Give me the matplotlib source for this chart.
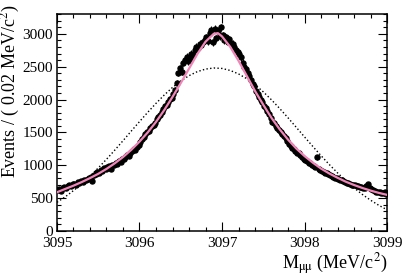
import numpy as np
import matplotlib
matplotlib.use("Agg")
from matplotlib import pyplot as plt
from matplotlib.ticker import MultipleLocator

plt.rcParams['font.family'] = ['Liberation Serif', 'DejaVu Serif']
plt.rcParams['mathtext.fontset'] = 'stix'

# bin centres, 0.02 MeV bins from 3095 to 3099
mass = np.arange(200) * 0.02 + 3095.01

events = [
    625, 640, 610, 660, 670, 655, 690, 700, 685, 720,
    715, 705, 740, 730, 760, 745, 780, 770, 795, 810,
    820, 760, 850, 870, 905, 880, 930, 915, 960, 950,
    975, 990, 940, 1010, 1000, 1040, 1025, 1060, 1050, 1090,
    1100, 1120, 1150, 1140, 1190, 1210, 1240, 1230, 1280, 1310,
    1360, 1400, 1430, 1470, 1500, 1520, 1560, 1590, 1610, 1650,
    1700, 1730, 1760, 1810, 1850, 1900, 1920, 1960, 2010, 2030,
    2090, 2150, 2250, 2400, 2480, 2420, 2560, 2600, 2650, 2580,
    2620, 2700, 2680, 2750, 2800, 2790, 2850, 2830, 2880, 2900,
    2950, 2890, 3010, 3060, 2870, 3080, 2930, 3050, 2960, 3100,
    2980, 2900, 2950, 2880, 2920, 2860, 2850, 2800, 2760, 2720,
    2700, 2640, 2560, 2500, 2470, 2400, 2360, 2290, 2230, 2200,
    2130, 2080, 2040, 2000, 1960, 1900, 1870, 1830, 1780, 1720,
    1660, 1640, 1600, 1560, 1530, 1500, 1470, 1440, 1410, 1370,
    1330, 1300, 1270, 1250, 1220, 1190, 1180, 1150, 1120, 1100,
    1080, 1070, 1040, 1030, 1010, 990, 970, 1120, 950, 930,
    920, 900, 890, 880, 860, 850, 830, 825, 810, 800,
    790, 780, 770, 755, 740, 735, 730, 715, 705, 700,
    700, 690, 680, 670, 675, 660, 650, 690, 720, 660,
    640, 620, 610, 600, 595, 600, 585, 580, 590, 570,
]

# fit curve (pink), read every 0.1 MeV plus the peak
fit_x = [3095.0, 3095.1, 3095.2, 3095.3, 3095.4, 3095.5, 3095.6, 3095.7, 3095.8, 3095.9,
         3096.0, 3096.1, 3096.2, 3096.3, 3096.4, 3096.5, 3096.6, 3096.7, 3096.8, 3096.9,
         3096.95, 3097.0, 3097.1, 3097.2, 3097.3, 3097.4, 3097.5, 3097.6, 3097.7, 3097.8,
         3097.9, 3098.0, 3098.1, 3098.2, 3098.3, 3098.4, 3098.5, 3098.6, 3098.7, 3098.8,
         3098.9, 3099.0]
fit_y = [590, 640, 690, 745, 805, 870, 945, 1030, 1125, 1235,
         1360, 1500, 1660, 1840, 2040, 2250, 2470, 2690, 2880, 3000,
         3010, 2960, 2800, 2590, 2360, 2130, 1920, 1720, 1545, 1390,
         1255, 1140, 1040, 950, 875, 810, 750, 700, 655, 615,
         580, 550]

# dotted curve, read every 0.1 MeV
dot_x = [3095.0 + 0.1 * i for i in range(41)]
dot_y = [437, 520, 615, 720, 835, 959, 1091, 1230, 1373, 1520,
         1664, 1806, 1942, 2069, 2184, 2282, 2363, 2424, 2463, 2480,
         2473, 2442, 2390, 2317, 2225, 2117, 1995, 1862, 1722, 1577,
         1431, 1287, 1146, 1011, 884, 765, 656, 557, 469, 391,
         323]

fig = plt.figure(figsize=(4.07, 2.76), dpi=100)
ax = fig.add_axes([0.140, 0.163, 0.811, 0.786])

ax.plot(dot_x, dot_y, color='black', linestyle=':', linewidth=1.0)
ax.errorbar(mass, events, yerr=np.sqrt(events), fmt='o', color='black',
            markersize=3.6, elinewidth=0.8, capsize=0, zorder=3)
ax.plot(fit_x, fit_y, color='#f086b8', linewidth=1.6, zorder=4)

ax.set_xlim(3095, 3099)
ax.set_ylim(0, 3300)
ax.xaxis.set_major_locator(MultipleLocator(1))
ax.xaxis.set_minor_locator(MultipleLocator(0.2))
ax.yaxis.set_major_locator(MultipleLocator(500))
ax.yaxis.set_minor_locator(MultipleLocator(100))
ax.tick_params(which='both', direction='in', top=True, right=True, width=0.8, labelsize=11)
ax.tick_params(which='major', length=6.5)
ax.tick_params(which='minor', length=3.2)
ax.tick_params(axis='x', pad=4.5)
ax.tick_params(axis='y', pad=3)
for s in ax.spines.values():
    s.set_linewidth(1.1)

ax.set_xlabel(r'M$_{\mathrm{μμ}}$ (MeV/c$^{2}$)', fontsize=13, loc='right')
ax.set_ylabel(r'Events / ( 0.02 MeV/c$^{2}$)', fontsize=13, loc='top')
ax.xaxis.set_label_coords(1.0, -0.095)
ax.yaxis.set_label_coords(-0.105, 1.045)

fig.savefig('out.png', dpi=100)
